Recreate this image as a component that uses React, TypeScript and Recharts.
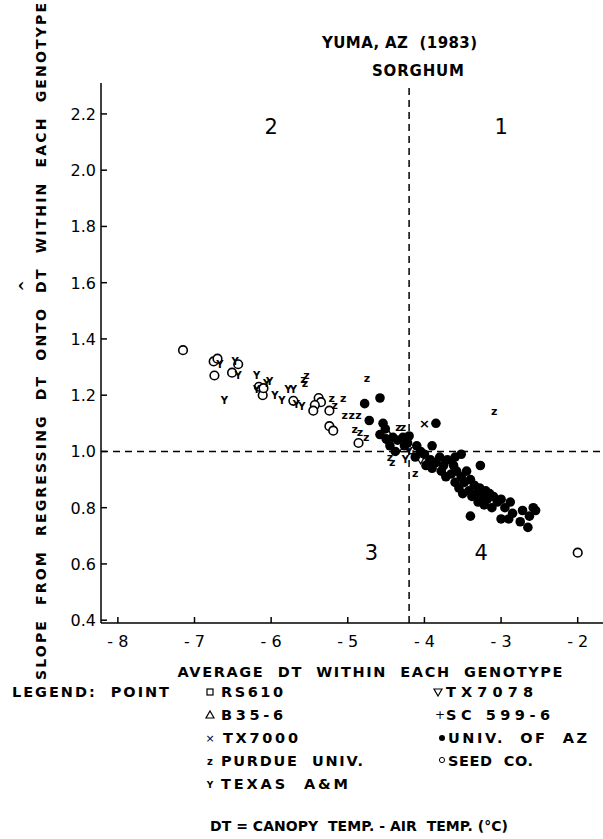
import React from "react";
import {
  ScatterChart,
  Scatter,
  XAxis,
  YAxis,
  ReferenceLine,
} from "recharts";

const X_TICKS = [-8, -7, -6, -5, -4, -3, -2];
const Y_TICKS = [0.4, 0.6, 0.8, 1.0, 1.2, 1.4, 1.6, 1.8, 2.0, 2.2];

const SEED_CO = [
  { x: -7.15, y: 1.36 }, { x: -6.75, y: 1.32 }, { x: -6.7, y: 1.33 },
  { x: -6.74, y: 1.27 }, { x: -6.51, y: 1.28 }, { x: -6.43, y: 1.31 },
  { x: -6.16, y: 1.23 }, { x: -6.11, y: 1.2 }, { x: -6.1, y: 1.225 },
  { x: -5.71, y: 1.18 }, { x: -5.38, y: 1.19 }, { x: -5.35, y: 1.175 },
  { x: -5.43, y: 1.165 }, { x: -5.45, y: 1.145 }, { x: -5.24, y: 1.145 },
  { x: -5.24, y: 1.09 }, { x: -5.19, y: 1.074 }, { x: -4.86, y: 1.03 },
  { x: -4.5, y: 1.06 }, { x: -4.47, y: 1.04 }, { x: -2.0, y: 0.64 },
];

const PURDUE = [
  { x: -5.54, y: 1.27 }, { x: -5.58, y: 1.255 }, { x: -5.56, y: 1.24 },
  { x: -5.21, y: 1.19 }, { x: -5.06, y: 1.19 }, { x: -5.17, y: 1.165 },
  { x: -5.04, y: 1.128 }, { x: -4.95, y: 1.128 }, { x: -4.86, y: 1.128 },
  { x: -4.75, y: 1.26 }, { x: -4.91, y: 1.078 }, { x: -4.84, y: 1.066 },
  { x: -4.76, y: 1.05 }, { x: -4.34, y: 1.084 }, { x: -4.28, y: 1.084 },
  { x: -3.09, y: 1.142 }, { x: -4.45, y: 0.98 }, { x: -4.42, y: 0.96 },
  { x: -4.12, y: 0.92 },
];

const TEXAS = [
  { x: -6.67, y: 1.31 }, { x: -6.47, y: 1.32 }, { x: -6.61, y: 1.18 },
  { x: -6.43, y: 1.27 }, { x: -6.19, y: 1.27 }, { x: -6.19, y: 1.22 },
  { x: -6.06, y: 1.24 }, { x: -6.02, y: 1.25 }, { x: -5.95, y: 1.2 },
  { x: -5.86, y: 1.18 }, { x: -5.78, y: 1.22 }, { x: -5.71, y: 1.22 },
  { x: -5.67, y: 1.166 }, { x: -5.6, y: 1.16 }, { x: -4.2, y: 1.0 },
  { x: -4.25, y: 0.97 },
];

const TX7000 = [{ x: -4.0, y: 1.098 }];
const RS610 = [{ x: -3.95, y: 0.96 }];
const B35_6 = [{ x: -4.27, y: 1.01 }];
const TX7078 = [{ x: -4.05, y: 0.97 }];
const SC599_6 = [{ x: -4.15, y: 0.99 }];

const UNIV_AZ = [
  { x: -4.78, y: 1.17 }, { x: -4.58, y: 1.19 }, { x: -4.72, y: 1.11 },
  { x: -4.54, y: 1.1 }, { x: -4.51, y: 1.08 }, { x: -4.58, y: 1.06 },
  { x: -4.5, y: 1.045 }, { x: -4.41, y: 1.05 }, { x: -4.35, y: 1.04 },
  { x: -4.28, y: 1.05 }, { x: -4.2, y: 1.055 }, { x: -4.22, y: 1.03 },
  { x: -4.26, y: 1.02 }, { x: -4.45, y: 1.02 }, { x: -4.38, y: 1.0 },
  { x: -3.85, y: 1.1 }, { x: -3.9, y: 1.02 }, { x: -4.1, y: 1.02 },
  { x: -4.05, y: 1.0 }, { x: -4.12, y: 0.98 }, { x: -4.0, y: 0.99 },
  { x: -3.98, y: 0.95 }, { x: -3.92, y: 0.97 }, { x: -3.9, y: 0.94 },
  { x: -3.85, y: 0.96 }, { x: -3.8, y: 0.98 }, { x: -3.78, y: 0.93 },
  { x: -3.75, y: 0.95 }, { x: -3.72, y: 0.91 }, { x: -3.7, y: 0.97 },
  { x: -3.65, y: 0.92 }, { x: -3.62, y: 0.95 }, { x: -3.6, y: 0.89 },
  { x: -3.58, y: 0.93 }, { x: -3.55, y: 0.87 }, { x: -3.52, y: 0.91 },
  { x: -3.5, y: 0.85 }, { x: -3.48, y: 0.89 }, { x: -3.45, y: 0.93 },
  { x: -3.42, y: 0.86 }, { x: -3.4, y: 0.77 }, { x: -3.4, y: 0.9 },
  { x: -3.38, y: 0.84 }, { x: -3.35, y: 0.88 }, { x: -3.32, y: 0.85 },
  { x: -3.3, y: 0.82 }, { x: -3.28, y: 0.87 }, { x: -3.25, y: 0.84 },
  { x: -3.27, y: 0.95 }, { x: -3.22, y: 0.81 }, { x: -3.2, y: 0.86 },
  { x: -3.18, y: 0.83 }, { x: -3.15, y: 0.85 }, { x: -3.12, y: 0.8 },
  { x: -3.1, y: 0.84 }, { x: -3.05, y: 0.82 }, { x: -3.0, y: 0.76 },
  { x: -3.0, y: 0.83 }, { x: -2.95, y: 0.8 }, { x: -2.9, y: 0.76 },
  { x: -2.88, y: 0.82 }, { x: -2.85, y: 0.78 }, { x: -2.75, y: 0.75 },
  { x: -2.72, y: 0.79 }, { x: -2.65, y: 0.73 }, { x: -2.63, y: 0.77 },
  { x: -2.58, y: 0.8 }, { x: -2.55, y: 0.79 }, { x: -3.6, y: 0.98 },
  { x: -3.52, y: 0.99 },
];

const QUADRANTS = [
  { x: -6, y: 2.155, label: "2" },
  { x: -3, y: 2.155, label: "1" },
  { x: -4.69, y: 0.64, label: "3" },
  { x: -3.26, y: 0.64, label: "4" },
];

const FONT = "DejaVu Sans";

const OpenCircle = (p: any) => (
  <circle cx={p.cx} cy={p.cy} r={4.3} fill="#fff" stroke="#000" strokeWidth={1.6} />
);
const FilledCircle = (p: any) => <circle cx={p.cx} cy={p.cy} r={4.8} fill="#000" />;
const letter = (ch: string, size = 11) => (p: any) => (
  <text x={p.cx} y={p.cy} textAnchor="middle" dominantBaseline="central"
    fontSize={size} fontWeight="bold" fontFamily={FONT} fill="#000">{ch}</text>
);
const Square = (p: any) => (
  <rect x={p.cx - 3} y={p.cy - 3} width={6} height={6} fill="#fff" stroke="#000" strokeWidth={1.2} />
);
const Tri = (p: any) => (
  <path d={`M${p.cx},${p.cy - 4}L${p.cx + 4},${p.cy + 3}L${p.cx - 4},${p.cy + 3}Z`} fill="#fff" stroke="#000" strokeWidth={1.2} />
);
const InvTri = (p: any) => (
  <path d={`M${p.cx},${p.cy + 4}L${p.cx + 4},${p.cy - 3}L${p.cx - 4},${p.cy - 3}Z`} fill="#fff" stroke="#000" strokeWidth={1.2} />
);
const QuadLabel = (p: any) => (
  <text x={p.cx} y={p.cy} textAnchor="middle" dominantBaseline="central"
    fontSize={21} fontFamily={FONT} fill="#000">{p.payload.label}</text>
);

const XTick = (p: any) => {
  const v = p.payload.value;
  return (
    <g>
      <line x1={p.x} x2={p.x} y1={p.y} y2={p.y - 6} stroke="#000" strokeWidth={1.5} />
      <text x={p.x} y={p.y + 24} textAnchor="middle" fontSize={16} fontFamily={FONT} fill="#000"
        style={{ whiteSpace: "pre" }}>{"- " + Math.abs(v)}</text>
    </g>
  );
};

const YTick = (p: any) => {
  const v = p.payload.value;
  return (
    <g>
      <line x1={p.x} x2={p.x + 6} y1={p.y} y2={p.y} stroke="#000" strokeWidth={1.5} />
      <text x={p.x - 5} y={p.y + 6} textAnchor="end" fontSize={16} fontFamily={FONT} fill="#000">
        {v.toFixed(1)}
      </text>
    </g>
  );
};

const txt = { fontFamily: FONT, fill: "#000", whiteSpace: "pre" as const };

export default function App() {
  const legendRows = [692, 715, 738, 761, 784];
  return (
    <div style={{ position: "absolute", left: 0, top: 0, width: 603, height: 839, background: "#fff" }}>
      <ScatterChart width={603} height={839} margin={{ top: 83, right: 0, bottom: 176, left: 41 }}>
        <XAxis type="number" dataKey="x" domain={[-8.22, -1.67]} ticks={X_TICKS} allowDataOverflow
          axisLine={{ stroke: "#000", strokeWidth: 1.5 }} tickLine={false} tickSize={0} tickMargin={0}
          tick={<XTick />} height={40} interval={0} />
        <YAxis type="number" dataKey="y" domain={[0.39, 2.31]} ticks={Y_TICKS} allowDataOverflow
          axisLine={{ stroke: "#000", strokeWidth: 1.5 }} tickLine={false} tickSize={0} tickMargin={0}
          tick={<YTick />} width={60} interval={0} />
        <ReferenceLine x={-4.2} stroke="#000" strokeWidth={1.5} strokeDasharray="7 5" />
        <ReferenceLine y={1.0} stroke="#000" strokeWidth={1.5} strokeDasharray="7 5" />
        <Scatter data={SEED_CO} shape={OpenCircle} isAnimationActive={false} />
        <Scatter data={PURDUE} shape={letter("z")} isAnimationActive={false} />
        <Scatter data={TEXAS} shape={letter("Y", 10)} isAnimationActive={false} />
        <Scatter data={TX7000} shape={letter("×", 13)} isAnimationActive={false} />
        <Scatter data={RS610} shape={Square} isAnimationActive={false} />
        <Scatter data={B35_6} shape={Tri} isAnimationActive={false} />
        <Scatter data={TX7078} shape={InvTri} isAnimationActive={false} />
        <Scatter data={SC599_6} shape={letter("+", 12)} isAnimationActive={false} />
        <Scatter data={UNIV_AZ} shape={FilledCircle} isAnimationActive={false} />
        <Scatter data={QUADRANTS} shape={QuadLabel} isAnimationActive={false} />
      </ScatterChart>

      <svg width={603} height={839} style={{ position: "absolute", left: 0, top: 0, pointerEvents: "none" }}>
        <text x={322} y={48} fontSize={15} fontWeight="bold" textLength={155} style={txt}>
          YUMA, AZ  (1983)
        </text>
        <text x={372} y={76} fontSize={15} fontWeight="bold" textLength={92} style={txt}>
          SORGHUM
        </text>
        <text transform="translate(46, 341.5) rotate(-90)" x={0} y={0} textAnchor="middle" fontSize={14}
          fontWeight="bold" textLength={677} style={txt}>
          SLOPE  FROM  REGRESSING  DT  ONTO  DT  WITHIN  EACH  GENOTYPE
        </text>
        <text transform="translate(30, 286) rotate(-90)" x={0} y={0} textAnchor="middle" fontSize={14}
          fontWeight="bold" style={txt}>^</text>
        <text x={370} y={677} textAnchor="middle" fontSize={14.5} fontWeight="bold" textLength={385} style={txt}>
          AVERAGE  DT  WITHIN  EACH  GENOTYPE
        </text>

        <text x={12} y={legendRows[0] + 5} fontSize={14.5} fontWeight="bold" textLength={157} style={txt}>LEGEND:  POINT</text>

        <rect x={207} y={legendRows[0] - 3} width={6} height={6} fill="#fff" stroke="#000" strokeWidth={1.2} />
        <text x={221} y={legendRows[0] + 5} fontSize={14.5} fontWeight="bold" textLength={62} style={txt}>RS610</text>
        <path d={`M210,${legendRows[1] - 4}L214,${legendRows[1] + 3}L206,${legendRows[1] + 3}Z`} fill="#fff" stroke="#000" strokeWidth={1.2} />
        <text x={221} y={legendRows[1] + 5} fontSize={14.5} fontWeight="bold" textLength={62} style={txt}>B35-6</text>
        <text x={210} y={legendRows[2] + 4} textAnchor="middle" fontSize={11} style={txt}>×</text>
        <text x={223} y={legendRows[2] + 5} fontSize={14.5} fontWeight="bold" textLength={75} style={txt}>TX7000</text>
        <text x={210} y={legendRows[3] + 4} textAnchor="middle" fontSize={10} fontWeight="bold" style={txt}>z</text>
        <text x={221} y={legendRows[3] + 5} fontSize={14.5} fontWeight="bold" textLength={142} style={txt}>PURDUE  UNIV.</text>
        <text x={210} y={legendRows[4] + 4} textAnchor="middle" fontSize={9} fontWeight="bold" style={txt}>Y</text>
        <text x={221} y={legendRows[4] + 5} fontSize={14.5} fontWeight="bold" textLength={127} style={txt}>TEXAS  A&amp;M</text>

        <path d={`M438,${legendRows[0] + 4}L442,${legendRows[0] - 3}L434,${legendRows[0] - 3}Z`} fill="#fff" stroke="#000" strokeWidth={1.2} />
        <text x={446} y={legendRows[0] + 5} fontSize={14.5} fontWeight="bold" textLength={87} style={txt}>TX7078</text>
        <text x={440} y={legendRows[1] + 4} textAnchor="middle" fontSize={12} style={txt}>+</text>
        <text x={446} y={legendRows[1] + 5} fontSize={14.5} fontWeight="bold" textLength={104} style={txt}>SC 599-6</text>
        <circle cx={442} cy={legendRows[2]} r={3} fill="#000" />
        <text x={448} y={legendRows[2] + 5} fontSize={14.5} fontWeight="bold" textLength={139} style={txt}>UNIV.  OF  AZ</text>
        <circle cx={442} cy={legendRows[3] - 1} r={2.6} fill="#fff" stroke="#000" strokeWidth={1} />
        <text x={448} y={legendRows[3] + 5} fontSize={14.5} fontWeight="bold" textLength={85} style={txt}>SEED  CO.</text>

        <text x={359} y={831} textAnchor="middle" fontSize={14} fontWeight="bold" textLength={298} style={txt}>
          DT = CANOPY  TEMP. - AIR  TEMP. (°C)
        </text>
      </svg>
    </div>
  );
}
